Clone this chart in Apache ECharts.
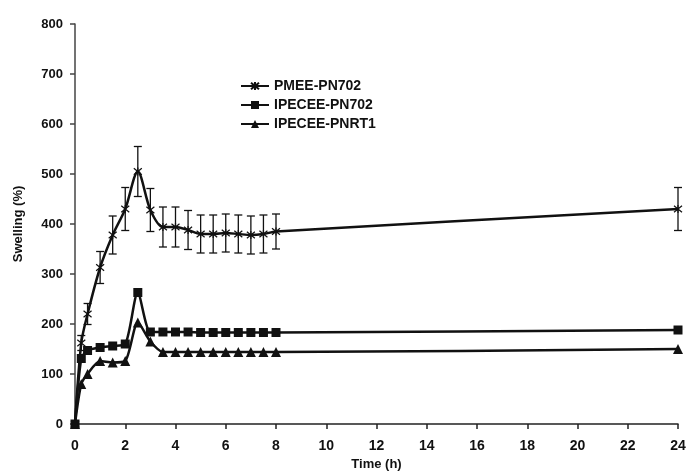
<!DOCTYPE html>
<html>
<head>
<meta charset="utf-8">
<script src="https://cdn.jsdelivr.net/npm/echarts@6/dist/echarts.min.js"></script>
<style>
  html, body { margin: 0; padding: 0; background: #fff; }
  #swellChart { width: 688px; height: 473px; }
</style>
</head>
<body>
<div id="swellChart"></div>
<script>
// time points (h)
const times = [0, 0.25, 0.5, 1, 1.5, 2, 2.5, 3, 3.5, 4, 4.5, 5, 5.5, 6, 6.5, 7, 7.5, 8, 24]
// swelling (%)
const pmee = [0, 162, 220, 313, 378, 430, 505, 428, 394, 394, 388, 380, 380, 382, 380, 378, 380, 385, 430]
const pmeeErr = [0, 15, 21, 32, 38, 43, 50, 43, 40, 40, 39, 38, 38, 38, 38, 38, 38, 35, 43]
const pn702 = [0, 131, 147, 153, 156, 160, 263, 184, 184, 184, 184, 183, 183, 183, 183, 183, 183, 183, 188]
const pnrt1 = [0, 80, 100, 126, 123, 126, 203, 165, 144, 144, 144, 144, 144, 144, 144, 144, 144, 144, 150]
const seriesNames = ['PMEE-PN702', 'IPECEE-PN702', 'IPECEE-PNRT1']

const font = '"Liberation Sans Narrow", "Liberation Sans", Arial, sans-serif'
const asterisk = 'path://M0,0L10,10M10,0L0,10M5,-1L5,11'

const pairs = (ys) => times.map((t, i) => [t, ys[i]])
const errData = times.map((t, i) => [t, pmee[i] - pmeeErr[i], pmee[i] + pmeeErr[i]])

let myChart = echarts.init(document.getElementById('swellChart'))
myChart.setOption({
  animation: false,
  textStyle: { fontFamily: font },
  grid: { left: 75, right: 10, top: 24, bottom: 49, outerBoundsMode: 'none', containLabel: false },
  legend: {
    orient: 'vertical',
    left: 235,
    top: 74,
    itemWidth: 28,
    itemHeight: 10,
    itemGap: 5,
    data: seriesNames,
    textStyle: { fontFamily: font, fontWeight: 'bold', fontSize: 14, color: '#111' }
  },
  xAxis: {
    type: 'value',
    min: 0,
    max: 24,
    interval: 2,
    name: 'Time (h)',
    nameLocation: 'middle',
    nameGap: 33,
    nameTextStyle: { fontFamily: font, fontWeight: 'bold', fontSize: 13, color: '#111' },
    splitLine: { show: false },
    axisLine: { lineStyle: { color: '#222', width: 1.5 } },
    axisTick: { inside: false, length: 5, lineStyle: { color: '#222', width: 1.5 } },
    axisLabel: { fontFamily: font, fontWeight: 'bold', fontSize: 14, color: '#111', margin: 15 }
  },
  yAxis: {
    type: 'value',
    min: 0,
    max: 800,
    interval: 100,
    name: 'Swelling (%)',
    nameLocation: 'middle',
    nameGap: 50,
    nameRotate: 90,
    nameTextStyle: { fontFamily: font, fontWeight: 'bold', fontSize: 13, color: '#111' },
    splitLine: { show: false },
    axisLine: { show: true, lineStyle: { color: '#444', width: 1.5 } },
    axisTick: { show: true, inside: false, length: 5, lineStyle: { color: '#444', width: 1.5 } },
    axisLabel: { fontFamily: font, fontWeight: 'bold', fontSize: 13, color: '#111', margin: 12 }
  },
  series: [
    {
      name: 'PMEE-PN702-err',
      type: 'custom',
      data: errData,
      z: 1,
      renderItem: (params, api) => {
        const top = api.coord([api.value(0), api.value(2)])
        const bot = api.coord([api.value(0), api.value(1)])
        const w = 4
        return {
          type: 'group',
          children: [
            { type: 'line', shape: { x1: top[0], y1: top[1], x2: bot[0], y2: bot[1] }, style: { stroke: '#111', lineWidth: 1.3 } },
            { type: 'line', shape: { x1: top[0] - w, y1: top[1], x2: top[0] + w, y2: top[1] }, style: { stroke: '#111', lineWidth: 1.3 } },
            { type: 'line', shape: { x1: bot[0] - w, y1: bot[1], x2: bot[0] + w, y2: bot[1] }, style: { stroke: '#111', lineWidth: 1.3 } }
          ]
        }
      }
    },
    {
      name: seriesNames[0],
      type: 'line',
      smooth: 0.3,
      data: pairs(pmee),
      symbol: asterisk,
      symbolSize: 8,
      lineStyle: { color: '#111', width: 2.5 },
      itemStyle: { color: '#111', borderColor: '#111', borderWidth: 1.2 },
      z: 3
    },
    {
      name: seriesNames[1],
      type: 'line',
      smooth: 0.25,
      data: pairs(pn702),
      symbol: 'rect',
      symbolSize: 9,
      lineStyle: { color: '#111', width: 2.5 },
      itemStyle: { color: '#111' },
      z: 3
    },
    {
      name: seriesNames[2],
      type: 'line',
      smooth: 0.25,
      data: pairs(pnrt1),
      symbol: 'triangle',
      symbolSize: 10,
      lineStyle: { color: '#111', width: 2.5 },
      itemStyle: { color: '#111' },
      z: 3
    }
  ]
})
</script>
</body>
</html>
